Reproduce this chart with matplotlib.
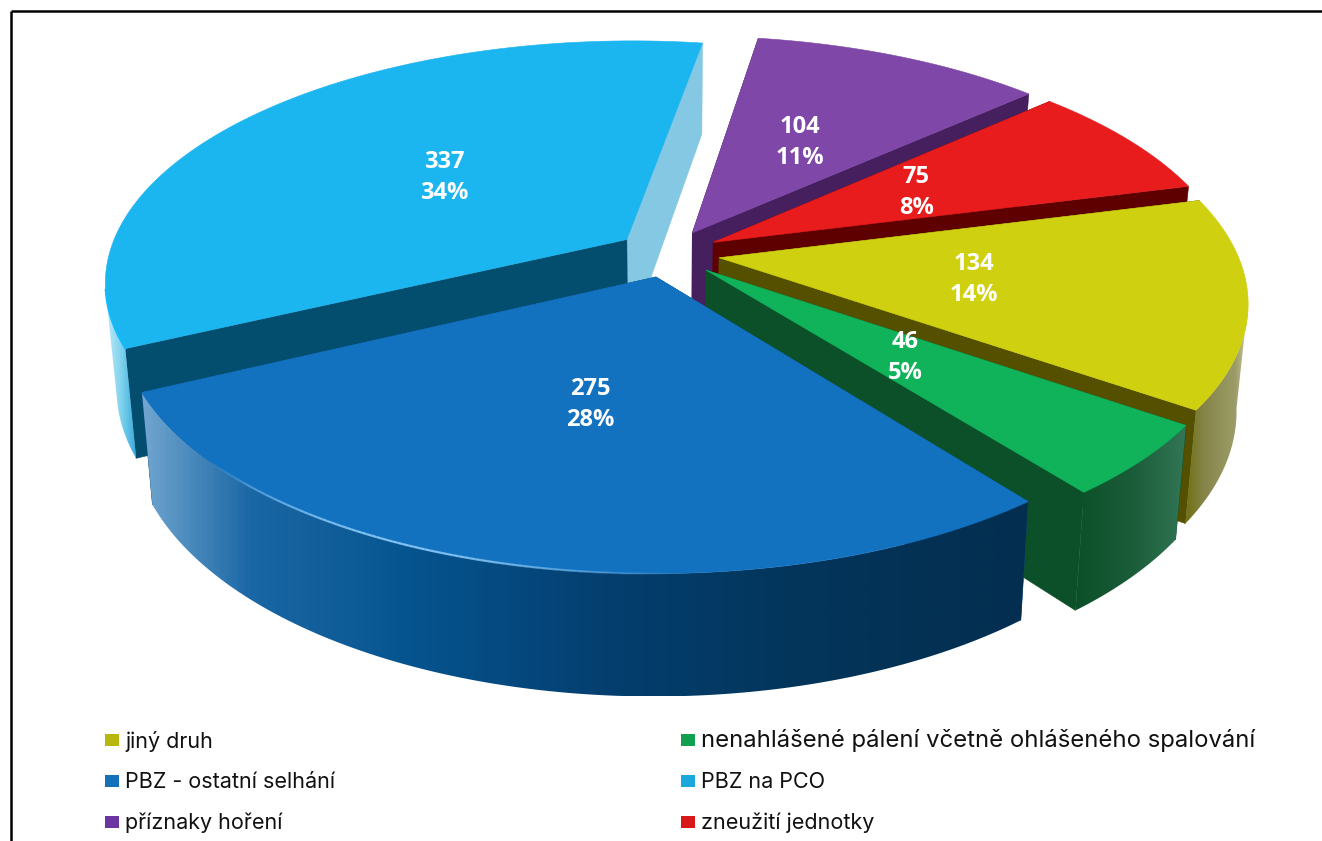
import numpy as np
import matplotlib
matplotlib.use("Agg")
import matplotlib.pyplot as plt
from matplotlib.colors import LinearSegmentedColormap
from matplotlib.patches import Rectangle, Polygon

# ---- data ----
categories = ["jiný druh", "nenahlášené pálení včetně ohlášeného spalování",
              "PBZ - ostatní selhání", "PBZ na PCO", "příznaky hoření", "zneužití jednotky"]
values = [134, 46, 275, 337, 104, 75]
percent_labels = ["14%", "5%", "28%", "34%", "11%", "8%"]
top_colors = ["#CFD010", "#10B25A", "#1272C0", "#1BB5F0", "#7F47A8", "#E81C1C"]
face_colors = ["#555000", "#0B5028", "#0B4A80", "#034E6E", "#451F5E", "#5E0000"]
end_face_colors = ["#555000", "#0B5028", "#0B4A80", "#85C8E3", "#451F5E", "#5E0000"]
wall_stops = [[(0, "#6F6F10"), (0.3, "#85854A"), (0.8, "#9C9C68"), (1, "#C8C8A0")],
              [(0, "#0B5028"), (0.5, "#1A5C38"), (1, "#327655")],
              [(0, "#6FA5CF"), (0.12, "#1A67A5"), (0.3, "#06548F"), (0.52, "#043F70"),
               (0.75, "#03355A"), (1, "#032E50")],
              [(0, "#BDEBF8"), (0.5, "#7FD2EE"), (1, "#35A8D8")],
              None, None]
legend_colors = ["#B8B810", "#10A050", "#1672B8", "#1AA8DC", "#6A35A0", "#D81818"]

# ---- projection of the tilted pie ----
CX, CY = 668.0, 253.5
A, B, K = 518.0, 237.0, 0.171
EXPLODE = 0.10
START = 75.5
HEIGHT = 104.0
BOTTOM_SHRINK = 0.98
WALL_FROM, WALL_TO = 100.0, 258.0
LABEL_R = [0.49, 0.49, 0.49, 0.47, 0.48, 0.47]
LABEL_FONT = "Open Sans"
LEGEND_FONT = "Inter"
LEGEND_SIZES = [15.5, 17.2, 15.5, 15.5, 15.5, 15.5]


def project(px, py, bottom=False):
    w = 1 + K * py
    sx = A * px / w
    sy = -B * py / w
    if bottom:
        sx = sx * BOTTOM_SHRINK
        sy = sy + HEIGHT / w ** 0.8
    return CX + sx, CY + sy


def plane(phi_deg, mid_deg, r=1.0):
    phi, mid = np.radians(phi_deg), np.radians(mid_deg)
    return (EXPLODE * np.sin(mid) + r * np.sin(phi),
            EXPLODE * np.cos(mid) + r * np.cos(phi))


fig = plt.figure(figsize=(13.22, 8.41), dpi=100)
ax = fig.add_axes([0, 0, 1, 1])
ax.set_xlim(0, 1322)
ax.set_ylim(841, 0)
ax.axis("off")

total = sum(values)
spans = [v / total * 360 for v in values]
starts = START + np.concatenate([[0], np.cumsum(spans)[:-1]])
order = [4, 5, 0, 1, 3, 2]

for i in order:
    a0, a1 = starts[i], starts[i] + spans[i]
    mid = (a0 + a1) / 2
    arc = np.linspace(a0, a1, 200)
    tip_p = plane(mid, mid, 0.0)
    rim_p = plane(arc, mid)
    z = 10 + order.index(i) * 10

    # radial cut faces
    for ang, col in ((a1, end_face_colors[i]), (a0, face_colors[i])):
        p = plane(ang, mid)
        t_top, t_bot = project(*tip_p), project(*tip_p, bottom=True)
        r_top, r_bot = project(*p), project(*p, bottom=True)
        ax.add_patch(Polygon([t_top, r_top, r_bot, t_bot], closed=True, facecolor=col,
                             edgecolor=col, lw=0.4, zorder=z))

    # outer wall, gradient along the screen x direction, clipped to the wall outline
    vis = (arc >= WALL_FROM) & (arc <= WALL_TO)
    if vis.sum() > 1 and wall_stops[i] is not None:
        cmap = LinearSegmentedColormap.from_list("w", wall_stops[i])
        vis_arc = arc[vis]
        xt, yt = project(*plane(vis_arc, mid))
        xb, yb = project(*plane(vis_arc, mid), bottom=True)
        outline = np.column_stack([np.r_[xt, xb[::-1]], np.r_[yt, yb[::-1]]])
        clip = Polygon(outline, closed=True, facecolor="none", edgecolor="none",
                       transform=ax.transData)
        ax.add_patch(clip)
        x0, x1 = outline[:, 0].min(), outline[:, 0].max()
        y0, y1 = outline[:, 1].min(), outline[:, 1].max()
        im = ax.imshow(np.linspace(0, 1, 400)[None, :], cmap=cmap, aspect="auto",
                       extent=(x0, x1, y1, y0), zorder=z + 1, interpolation="bilinear")
        im.set_clip_path(clip)

    # top surface
    xr, yr = project(*rim_p)
    tx, ty = project(*tip_p)
    ax.add_patch(Polygon(np.column_stack([np.r_[tx, xr], np.r_[ty, yr]]), closed=True,
                         facecolor=top_colors[i], edgecolor=top_colors[i], lw=0.4, zorder=z + 2))

    # value labels
    lx, ly = project(*plane(mid, mid, LABEL_R[i]))
    ax.text(lx, ly - 15, str(values[i]), color="white", family=LABEL_FONT, weight="bold", fontsize=17,
            ha="center", va="center", zorder=200)
    ax.text(lx, ly + 16, percent_labels[i], color="white", family=LABEL_FONT, weight="bold", fontsize=17,
            ha="center", va="center", zorder=200)

ax.set_xlim(0, 1322)
ax.set_ylim(841, 0)

# bright rim highlight on the big blue slice and the left of the light blue slice
i = 2
a0, a1 = starts[i], starts[i] + spans[i]
mid = (a0 + a1) / 2
arc = np.linspace(178, a1, 120)
x, y = project(*plane(arc, mid))
for j in range(len(arc) - 1):
    frac = (arc[j] - 178) / (a1 - 178)
    strength = np.sin(np.pi * min(frac * 1.3, 1.0))
    ax.plot(x[j:j + 2], y[j:j + 2], color="#8CCBFA", lw=1.6, alpha=0.9 * strength,
            zorder=120, solid_capstyle="butt")
i = 3
a0 = starts[i]
mid = a0 + spans[i] / 2
arc = np.linspace(a0, 258, 20)
x, y = project(*plane(arc, mid))
ax.plot(x, y, color="#10BEFF", lw=1.2, zorder=100)

# frame
ax.plot([10.5, 10.5], [841, 10.5], color="black", lw=1.8, zorder=300, solid_capstyle="butt")
ax.plot([10.5, 1322], [10.5, 10.5], color="black", lw=1.8, zorder=300, solid_capstyle="butt")

# legend
col_x = [105, 681]
row_y = [741, 782, 823]
for n, (name, col) in enumerate(zip(categories, legend_colors)):
    x0 = col_x[n % 2]
    y0 = row_y[n // 2]
    ax.add_patch(Rectangle((x0, y0 - 7), 14, 12, facecolor=col, edgecolor="none", zorder=300))
    ax.text(x0 + 20, y0, name, family=LEGEND_FONT, fontsize=LEGEND_SIZES[n], color="#111111",
            ha="left", va="center", zorder=300)

fig.savefig("out.png", dpi=100)
